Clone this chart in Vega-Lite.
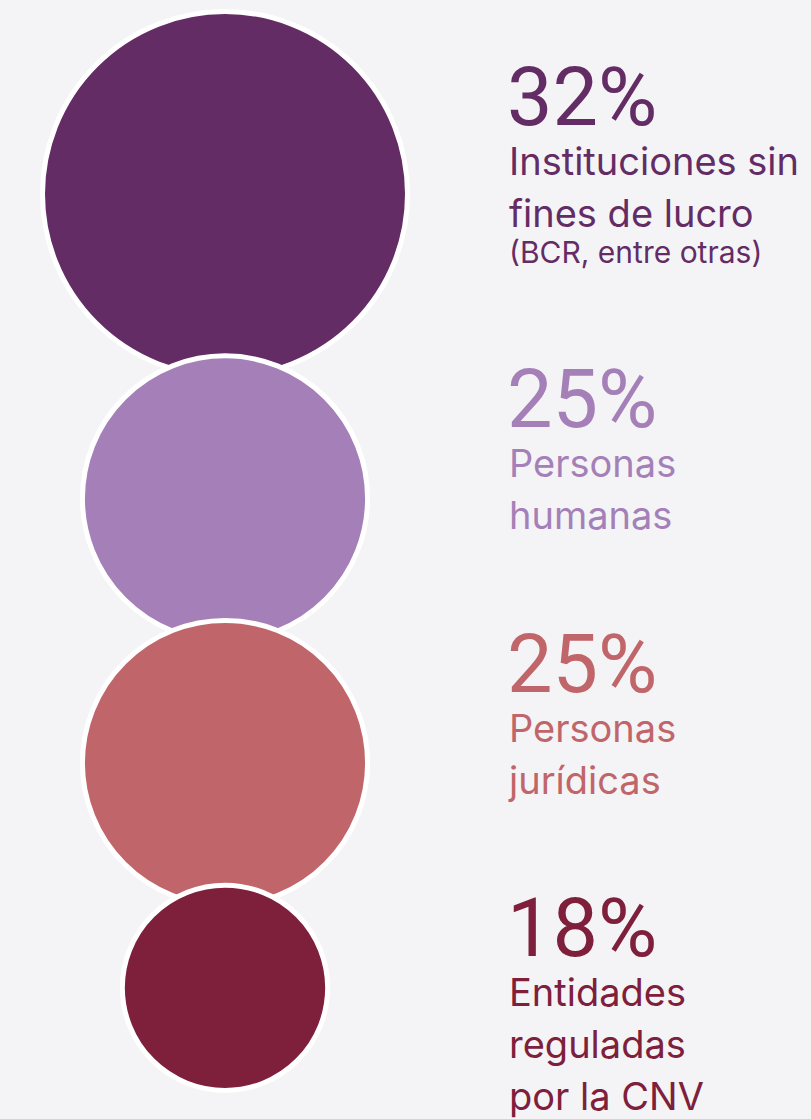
{
  "$schema": "https://vega.github.io/schema/vega-lite/v6.json",
  "width": 811,
  "height": 1119,
  "autosize": {"type": "fit", "contains": "padding"},
  "padding": 0,
  "background": "#f4f4f6",
  "config": {"view": {"stroke": null}},
  "data": {
    "values": [
      {"rank": 1, "value": 32, "pct": "32%", "label": "Instituciones sin\nfines de lucro", "note": "(BCR, entre otras)"},
      {"rank": 2, "value": 25, "pct": "25%", "label": "Personas\nhumanas", "note": ""},
      {"rank": 3, "value": 25, "pct": "25%", "label": "Personas\njurídicas", "note": ""},
      {"rank": 4, "value": 18, "pct": "18%", "label": "Entidades\nreguladas\npor la CNV", "note": ""}
    ]
  },
  "transform": [
    {"window": [{"op": "sum", "field": "value", "as": "cum"}], "sort": [{"field": "rank"}], "frame": [null, 0]},
    {"calculate": "2*datum.cum - datum.value - 3.5*(datum.rank-1) + 2.1", "as": "center"},
    {"calculate": "datum.center - datum.value + (datum.rank == 1 ? 19.9 : 12.5)", "as": "textY"}
  ],
  "layer": [
    {
      "mark": {"type": "point", "shape": "circle", "filled": true, "stroke": "white", "strokeWidth": 5, "opacity": 1, "strokeOpacity": 1},
      "encoding": {
        "x": {"datum": 225, "type": "quantitative", "scale": {"domain": [0, 811], "nice": false, "zero": false}, "axis": null},
        "y": {"field": "center", "type": "quantitative", "scale": {"domain": [0, 196.66], "reverse": true, "nice": false, "zero": false}, "axis": null},
        "size": {"field": "value", "type": "quantitative", "scale": {"type": "pow", "exponent": 2, "domain": [0, 32], "range": [0, 133225]}, "legend": null},
        "color": {"field": "rank", "type": "ordinal", "scale": {"domain": [1, 2, 3, 4], "range": ["#642c64", "#a580b8", "#c0666a", "#7e203b"]}, "legend": null},
        "order": {"field": "rank"}
      }
    },
    {
      "mark": {"type": "text", "align": "left", "baseline": "alphabetic", "font": "Roboto", "fontSize": 81, "fontWeight": 400},
      "encoding": {
        "x": {"datum": 507, "type": "quantitative"},
        "y": {"field": "textY", "type": "quantitative"},
        "text": {"field": "pct"},
        "color": {"field": "rank", "type": "ordinal", "legend": null}
      }
    },
    {
      "mark": {"type": "text", "align": "left", "baseline": "alphabetic", "font": "Inter", "fontSize": 38, "fontWeight": 400, "dy": 50, "lineBreak": "\n", "lineHeight": 52},
      "encoding": {
        "x": {"datum": 509, "type": "quantitative"},
        "y": {"field": "textY", "type": "quantitative"},
        "text": {"field": "label"},
        "color": {"field": "rank", "type": "ordinal", "legend": null}
      }
    },
    {
      "transform": [{"filter": "datum.note != ''"}],
      "mark": {"type": "text", "align": "left", "baseline": "alphabetic", "font": "Inter", "fontSize": 30, "fontWeight": 400, "dy": 138},
      "encoding": {
        "x": {"datum": 509, "type": "quantitative"},
        "y": {"field": "textY", "type": "quantitative"},
        "text": {"field": "note"},
        "color": {"field": "rank", "type": "ordinal", "legend": null}
      }
    }
  ]
}
